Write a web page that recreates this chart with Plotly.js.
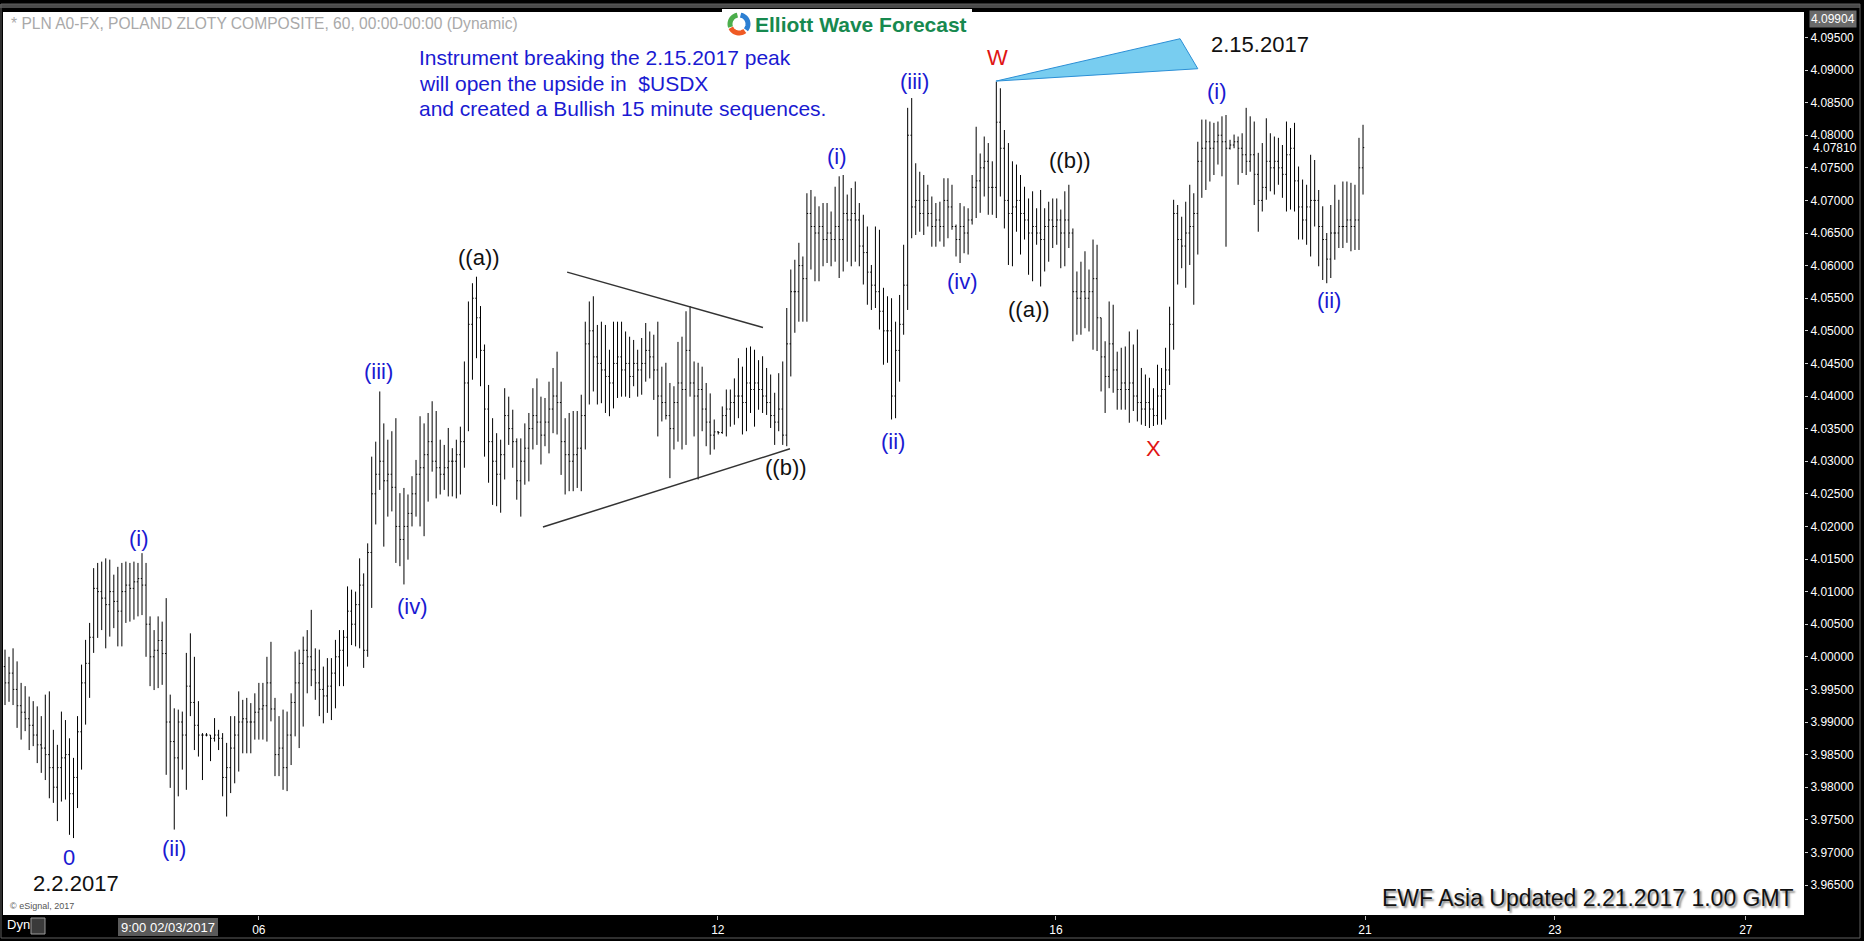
<!DOCTYPE html>
<html>
<head>
<meta charset="utf-8">
<script src="https://cdn.plot.ly/plotly-3.0.1.min.js"></script>
<style>
html,body{margin:0;padding:0;background:#000;overflow:hidden;}
#chart{width:1864px;height:941px;}
</style>
</head>
<body>
<div id="chart"></div>
<script>
// ---------------- DATA (PLN A0-FX, 60 min bars) ----------------
const firstOpen = 3.9985;
const highs = [
4.0011,4.0000,4.0013,3.9993,3.9960,3.9955,3.9939,3.9932,3.9924,3.9909,
3.9942,3.9947,3.9888,3.9865,3.9916,3.9903,3.9875,3.9845,3.9909,3.9988,
4.0026,4.0052,4.0136,4.0144,4.0146,4.0151,4.0149,4.0126,4.0138,4.0144,
4.0146,4.0144,4.0146,4.0144,4.0159,4.0144,4.0062,4.0041,4.0062,4.0054,
4.0090,3.9942,3.9921,3.9919,3.9916,4.0006,4.0036,4.0000,3.9932,3.9883,
3.9883,3.9880,3.9906,3.9888,3.9883,3.9868,3.9909,3.9909,3.9947,3.9934,
3.9937,3.9929,3.9944,3.9960,3.9960,4.0000,4.0023,3.9937,3.9909,3.9919,
3.9916,3.9944,4.0008,4.0011,4.0031,4.0041,4.0072,4.0013,4.0011,3.9985,
3.9998,3.9998,4.0026,4.0041,4.0041,4.0108,4.0103,4.0100,4.0151,4.0128,
4.0174,4.0307,4.0330,4.0407,4.0358,4.0333,4.0346,4.0366,4.0251,4.0259,
4.0249,4.0277,4.0302,4.0369,4.0358,4.0374,4.0392,4.0377,4.0333,4.0325,
4.0351,4.0320,4.0333,4.0353,4.0453,4.0545,4.0573,4.0583,4.0538,4.0479,
4.0417,4.0366,4.0343,4.0333,4.0412,4.0399,4.0379,4.0335,4.0335,4.0358,
4.0374,4.0412,4.0427,4.0399,4.0397,4.0422,4.0443,4.0468,4.0422,4.0366,
4.0374,4.0377,4.0377,4.0402,4.0514,4.0545,4.0553,4.0509,4.0514,4.0509,
4.0471,4.0514,4.0514,4.0514,4.0499,4.0491,4.0486,4.0471,4.0489,4.0512,
4.0499,4.0494,4.0514,4.0445,4.0451,4.0420,4.0415,4.0483,4.0491,4.0530,
4.0538,4.0453,4.0451,4.0445,4.0420,4.0404,4.0364,4.0346,4.0384,4.0410,
4.0410,4.0427,4.0458,4.0445,4.0474,4.0476,4.0471,4.0455,4.0461,4.0443,
4.0433,4.0405,4.0435,4.0453,4.0535,4.0594,4.0609,4.0635,4.0614,4.0711,
4.0716,4.0706,4.0691,4.0696,4.0696,4.0683,4.0721,4.0737,4.0739,4.0709,
4.0719,4.0729,4.0696,4.0678,4.0660,4.0601,4.0660,4.0655,4.0566,4.0553,
4.0550,4.0514,4.0555,4.0632,4.0842,4.0857,4.0757,4.0744,4.0739,4.0724,
4.0706,4.0696,4.0698,4.0734,4.0734,4.0724,4.0663,4.0696,4.0691,4.0688,
4.0739,4.0813,4.0772,4.0798,4.0788,4.0760,4.0882,4.0872,4.0808,4.0788,
4.0760,4.0755,4.0739,4.0721,4.0703,4.0714,4.0688,4.0716,4.0688,4.0698,
4.0703,4.0703,4.0686,4.0714,4.0724,4.0657,4.0591,4.0606,4.0622,4.0594,
4.0640,4.0632,4.0520,4.0484,4.0545,4.0540,4.0468,4.0474,4.0476,4.0499,
4.0479,4.0502,4.0443,4.0433,4.0428,4.0412,4.0448,4.0443,4.0474,4.0537,
4.0701,4.0693,4.0675,4.0698,4.0724,4.0711,4.0790,4.0824,4.0824,4.0821,
4.0819,4.0821,4.0829,4.0831,4.0793,4.0801,4.0798,4.0803,4.0842,4.0829,
4.0821,4.0773,4.0788,4.0826,4.0803,4.0798,4.0796,4.0785,4.0821,4.0811,
4.0819,4.0752,4.0732,4.0724,4.0770,4.0762,4.0716,4.0691,4.0650,4.0693,
4.0724,4.0701,4.0729,4.0729,4.0727,4.0724,4.0796,4.0816
];
const lows = [
3.9926,3.9931,3.9926,3.9891,3.9873,3.9886,3.9857,3.9863,3.9837,3.9822,
3.9811,3.9783,3.9776,3.9748,3.9778,3.9781,3.9727,3.9722,3.9768,3.9827,
3.9896,3.9937,4.0006,4.0029,4.0041,4.0013,4.0031,4.0044,4.0016,4.0016,
4.0052,4.0054,4.0057,4.0062,4.0064,4.0000,3.9955,3.9949,3.9952,3.9957,
3.9819,3.9799,3.9735,3.9786,3.9827,3.9796,3.9909,3.9857,3.9847,3.9811,
3.9878,3.9840,3.9870,3.9857,3.9786,3.9755,3.9791,3.9806,3.9824,3.9852,
3.9852,3.9852,3.9873,3.9873,3.9873,3.9870,3.9901,3.9817,3.9817,3.9796,
3.9794,3.9834,3.9878,3.9860,3.9893,3.9944,3.9955,3.9934,3.9909,3.9898,
3.9914,3.9903,3.9921,3.9955,3.9955,3.9985,4.0018,4.0016,4.0013,3.9983,
4.0000,4.0075,4.0203,4.0256,4.0169,4.0215,4.0223,4.0144,4.0139,4.0111,
4.0149,4.0200,4.0215,4.0200,4.0185,4.0238,4.0284,4.0243,4.0249,4.0256,
4.0246,4.0246,4.0243,4.0249,4.0290,4.0346,4.0425,4.0458,4.0415,4.0307,
4.0267,4.0233,4.0231,4.0221,4.0272,4.0325,4.0290,4.0241,4.0215,4.0264,
4.0269,4.0318,4.0325,4.0295,4.0323,4.0312,4.0343,4.0341,4.0279,4.0249,
4.0254,4.0254,4.0259,4.0254,4.0318,4.0387,4.0407,4.0387,4.0389,4.0374,
4.0369,4.0381,4.0397,4.0399,4.0399,4.0397,4.0415,4.0399,4.0402,4.0422,
4.0427,4.0394,4.0338,4.0361,4.0364,4.0274,4.0318,4.0330,4.0318,4.0325,
4.0399,4.0338,4.0272,4.0346,4.0323,4.0310,4.0318,4.0341,4.0342,4.0338,
4.0353,4.0356,4.0366,4.0341,4.0346,4.0374,4.0353,4.0379,4.0374,4.0371,
4.0351,4.0325,4.0346,4.0325,4.0323,4.0430,4.0497,4.0514,4.0514,4.0514,
4.0594,4.0576,4.0576,4.0599,4.0604,4.0599,4.0606,4.0581,4.0591,4.0606,
4.0599,4.0606,4.0599,4.0571,4.0540,4.0532,4.0535,4.0502,4.0448,4.0451,
4.0364,4.0366,4.0422,4.0494,4.0532,4.0642,4.0647,4.0652,4.0647,4.0660,
4.0629,4.0629,4.0637,4.0629,4.0642,4.0655,4.0614,4.0604,4.0619,4.0617,
4.0663,4.0673,4.0681,4.0706,4.0678,4.0678,4.0673,4.0706,4.0657,4.0601,
4.0599,4.0652,4.0617,4.0640,4.0586,4.0576,4.0632,4.0568,4.0591,4.0606,
4.0627,4.0632,4.0596,4.0599,4.0627,4.0484,4.0494,4.0494,4.0504,4.0499,
4.0471,4.0469,4.0407,4.0374,4.0412,4.0405,4.0379,4.0379,4.0379,4.0359,
4.0377,4.0361,4.0356,4.0354,4.0351,4.0354,4.0356,4.0356,4.0364,4.0417,
4.0471,4.0571,4.0596,4.0566,4.0601,4.0540,4.0617,4.0704,4.0716,4.0729,
4.0739,4.0755,4.0737,4.0629,4.0778,4.0780,4.0724,4.0742,4.0739,4.0744,
4.0693,4.0652,4.0683,4.0701,4.0714,4.0709,4.0724,4.0704,4.0683,4.0686,
4.0683,4.0640,4.0640,4.0632,4.0614,4.0660,4.0599,4.0578,4.0573,4.0581,
4.0609,4.0627,4.0627,4.0635,4.0622,4.0624,4.0624,4.0709
];
const closes = [
3.9960,3.9975,3.9950,3.9925,3.9915,3.9905,3.9895,3.9880,3.9865,3.9860,
3.9850,3.9830,3.9800,3.9830,3.9845,3.9850,3.9790,3.9815,3.9885,3.9960,
3.9990,4.0030,4.0105,4.0100,4.0090,4.0080,4.0100,4.0085,4.0070,4.0100,
4.0110,4.0105,4.0115,4.0120,4.0110,4.0050,4.0000,4.0010,4.0025,4.0005,
3.9900,3.9870,3.9845,3.9900,3.9880,3.9955,3.9930,3.9895,3.9880,3.9880,
3.9880,3.9875,3.9880,3.9875,3.9815,3.9830,3.9860,3.9880,3.9900,3.9905,
3.9900,3.9900,3.9915,3.9920,3.9925,3.9960,3.9920,3.9850,3.9860,3.9830,
3.9880,3.9930,3.9960,3.9990,4.0010,4.0000,3.9980,3.9960,3.9950,3.9940,
3.9955,3.9975,4.0000,4.0010,4.0030,4.0070,4.0050,4.0080,4.0110,4.0010,
4.0160,4.0250,4.0280,4.0300,4.0270,4.0280,4.0260,4.0200,4.0180,4.0200,
4.0220,4.0250,4.0280,4.0290,4.0310,4.0330,4.0300,4.0290,4.0280,4.0290,
4.0300,4.0300,4.0310,4.0330,4.0420,4.0510,4.0550,4.0520,4.0470,4.0380,
4.0330,4.0300,4.0280,4.0310,4.0370,4.0350,4.0330,4.0270,4.0300,4.0320,
4.0350,4.0370,4.0360,4.0340,4.0360,4.0380,4.0400,4.0390,4.0330,4.0310,
4.0300,4.0310,4.0320,4.0370,4.0480,4.0500,4.0460,4.0450,4.0440,4.0430,
4.0420,4.0450,4.0460,4.0440,4.0450,4.0430,4.0450,4.0440,4.0450,4.0470,
4.0460,4.0440,4.0400,4.0390,4.0370,4.0350,4.0390,4.0420,4.0410,4.0470,
4.0420,4.0400,4.0410,4.0380,4.0360,4.0340,4.0345,4.0344,4.0370,4.0380,
4.0390,4.0400,4.0400,4.0390,4.0420,4.0410,4.0420,4.0410,4.0400,4.0390,
4.0370,4.0360,4.0380,4.0340,4.0480,4.0560,4.0560,4.0600,4.0580,4.0680,
4.0660,4.0650,4.0660,4.0640,4.0650,4.0640,4.0660,4.0640,4.0680,4.0670,
4.0680,4.0670,4.0630,4.0620,4.0590,4.0570,4.0560,4.0530,4.0500,4.0500,
4.0400,4.0470,4.0510,4.0570,4.0800,4.0690,4.0700,4.0680,4.0700,4.0680,
4.0660,4.0670,4.0660,4.0700,4.0690,4.0660,4.0640,4.0660,4.0650,4.0670,
4.0720,4.0730,4.0750,4.0760,4.0720,4.0720,4.0820,4.0780,4.0700,4.0680,
4.0690,4.0700,4.0680,4.0670,4.0650,4.0660,4.0650,4.0640,4.0660,4.0670,
4.0660,4.0670,4.0650,4.0670,4.0650,4.0560,4.0550,4.0560,4.0550,4.0560,
4.0580,4.0520,4.0460,4.0430,4.0480,4.0440,4.0410,4.0420,4.0410,4.0420,
4.0400,4.0390,4.0380,4.0390,4.0380,4.0370,4.0400,4.0410,4.0440,4.0510,
4.0680,4.0640,4.0630,4.0650,4.0660,4.0680,4.0760,4.0780,4.0790,4.0780,
4.0790,4.0800,4.0790,4.0780,4.0785,4.0790,4.0780,4.0770,4.0760,4.0770,
4.0740,4.0700,4.0720,4.0760,4.0750,4.0760,4.0750,4.0740,4.0770,4.0780,
4.0730,4.0690,4.0670,4.0690,4.0700,4.0700,4.0660,4.0640,4.0610,4.0650,
4.0650,4.0660,4.0660,4.0670,4.0660,4.0670,4.0750,4.0781
];

// axis ticks
const xTickPos  = [64.0, 177.9, 261.8, 338.5, 385.6, 433.0];
const xTickText = ["06", "12", "16", "21", "23", "27"];
const yTicks = [3.965,3.970,3.975,3.980,3.985,3.990,3.995,4.000,4.005,4.010,4.015,4.020,4.025,
                4.030,4.035,4.040,4.045,4.050,4.055,4.060,4.065,4.070,4.075,4.080,4.085,4.090,4.095];
const topPriceLabel = "4.09904";
const lastPriceLabel = "4.07810";
const lastPrice = 4.0781;

// Elliott wave labels (bar index, price)
const waveText  = ["0","(i)","(ii)","(iii)","(iv)","((a))","((b))","(i)","(ii)","(iii)","(iv)","W","((a))","((b))","X","(i)","(ii)"];
const waveX     = [16.9, 34.2, 42.9, 93.6, 102.2, 118.6, 194.8, 207.5, 221.3, 226.6, 238.5, 247.2, 255.1, 265.3, 286.1, 301.7, 329.5];
const waveY     = [3.9692,4.0181,3.9706,4.0437,4.0077,4.0612,4.0290,4.0768,4.0330,4.0883,4.0575,4.0919,4.0532,4.0762,4.0319,4.0867,4.0546];
const waveColor = ["#1a1ad2","#1a1ad2","#1a1ad2","#1a1ad2","#1a1ad2","#111111","#111111","#1a1ad2","#1a1ad2","#1a1ad2","#1a1ad2","#e01414","#111111","#111111","#e01414","#1a1ad2","#1a1ad2"];

const dateLabels = ["2.2.2017", "2.15.2017"];
const dateX = [18.6, 312.4];
const dateY = [3.9652, 4.0939];

// triangle (contracting) trend lines: [x0,y0,x1,y1] in bar index / price
const triUpper = [140.5, 4.0590, 189.1, 4.0505];
const triLower = [134.5, 4.0199, 195.8, 4.0319];
// blue target wedge from W peak
const wedgeX = [246.9, 292.6, 297.0];
const wedgeY = [4.0883, 4.0948, 4.0902];

const headerText = "* PLN A0-FX, POLAND ZLOTY COMPOSITE, 60, 00:00-00:00 (Dynamic)";
const noteLines = ["Instrument breaking the 2.15.2017 peak",
                   "will open the upside in  $USDX",
                   "and created a Bullish 15 minute sequences."];
const footerText = "EWF Asia Updated 2.21.2017 1.00 GMT";
const cursorLabel = "9:00 02/03/2017";

// ---------------- BUILD ----------------
const N = highs.length;
const barIdx = highs.map((_, i) => i + 1);
const opens = closes.map((c, i) => i === 0 ? firstOpen : closes[i - 1]);

const W = 1864, H = 941;
const M = {l: 3, r: 60, t: 12, b: 26};
const PW = W - M.l - M.r, PH = H - M.t - M.b;
const px = x => (x - M.l) / PW;
const py = y => (H - M.b - y) / PH;

const FONT = "Arial, 'Liberation Sans', sans-serif";

const trace = {
  type: 'ohlc',
  x: barIdx, open: opens, high: highs, low: lows, close: closes,
  increasing: {line: {color: '#000000', width: 1}},
  decreasing: {line: {color: '#000000', width: 1}},
  tickwidth: 0.3,
  hoverinfo: 'skip',
  showlegend: false
};

function arc(cx, cy, r, a0, a1) {
  let d = '';
  const steps = 14;
  for (let k = 0; k <= steps; k++) {
    const a = (a0 + (a1 - a0) * k / steps) * Math.PI / 180;
    const x = px(cx + r * Math.cos(a)), y = py(cy - r * Math.sin(a));
    d += (k === 0 ? 'M ' : ' L ') + x + ',' + y;
  }
  return d;
}

const shapes = [
  {type: 'rect', xref: 'paper', yref: 'paper', x0: px(0), x1: px(1860), y0: py(8), y1: py(4),
   fillcolor: '#4a4a4a', line: {width: 0}},
  {type: 'rect', xref: 'paper', yref: 'paper', x0: px(1), x1: px(1860), y0: py(938), y1: py(4),
   line: {color: '#5e5e5e', width: 1}},
  {type: 'rect', xref: 'paper', yref: 'paper', x0: px(722), x1: px(972), y0: py(40), y1: py(9),
   fillcolor: '#ffffff', line: {width: 0}},
  {type: 'path', xref: 'paper', yref: 'paper', path: arc(739, 24, 9, 100, 200), line: {color: '#4cae4c', width: 5}},
  {type: 'path', xref: 'paper', yref: 'paper', path: arc(739, 24, 9, -40, 80), line: {color: '#2d7fd2', width: 5}},
  {type: 'path', xref: 'paper', yref: 'paper', path: arc(739, 24, 9, 205, 310), line: {color: '#ef5a24', width: 5}},
  {type: 'line', xref: 'x', yref: 'y', x0: triUpper[0], y0: triUpper[1], x1: triUpper[2], y1: triUpper[3],
   line: {color: '#333333', width: 1.5}},
  {type: 'line', xref: 'x', yref: 'y', x0: triLower[0], y0: triLower[1], x1: triLower[2], y1: triLower[3],
   line: {color: '#333333', width: 1.5}},
  {type: 'path', xref: 'x', yref: 'y',
   path: 'M ' + wedgeX[0] + ',' + wedgeY[0] + ' L ' + wedgeX[1] + ',' + wedgeY[1] + ' L ' + wedgeX[2] + ',' + wedgeY[2] + ' Z',
   fillcolor: '#78cdf0', line: {color: '#2b8fd6', width: 1}},
  {type: 'rect', xref: 'paper', yref: 'paper', x0: px(31), x1: px(45), y0: py(934), y1: py(918),
   fillcolor: '#3a3a3a', line: {color: '#9a9a9a', width: 1}},
  {type: 'rect', xref: 'paper', yref: 'paper', x0: px(118), x1: px(218), y0: py(936), y1: py(918),
   fillcolor: '#5a5a5a', line: {width: 0}}
];

const annotations = [];
function addNote(o) {
  annotations.push(Object.assign({showarrow: false, xref: 'paper', yref: 'paper'}, o));
}

addNote({text: headerText, x: px(9), y: py(24), xanchor: 'left', yanchor: 'middle',
         font: {family: FONT, size: 15.6, color: '#a9a9a9'}});
addNote({text: '<b>Elliott Wave Forecast</b>', x: px(753), y: py(25), xanchor: 'left', yanchor: 'middle',
         font: {family: FONT, size: 21, color: '#17894f'}});
noteLines.forEach((t, i) => addNote({text: t, x: px(417), y: py(58 + 25 * i), xanchor: 'left', yanchor: 'middle',
         font: {family: FONT, size: 21, color: '#1a1ad2'}}));
addNote({text: footerText, x: px(1796), y: py(898), xanchor: 'right', yanchor: 'middle',
         font: {family: FONT, size: 23, color: '#111111', shadow: '2px 2px 2px #8a8a8a'}});
addNote({text: '\u00a9 eSignal, 2017', x: px(8), y: py(906), xanchor: 'left', yanchor: 'middle',
         font: {family: FONT, size: 9, color: '#555555'}});
addNote({text: 'Dyn', x: px(5), y: py(925), xanchor: 'left', yanchor: 'middle',
         font: {family: FONT, size: 13, color: '#ffffff'}});
addNote({text: cursorLabel, x: px(168), y: py(927), xanchor: 'center', yanchor: 'middle',
         font: {family: FONT, size: 13, color: '#ffffff'}});
addNote({text: topPriceLabel, x: px(1833), y: py(19), xanchor: 'center', yanchor: 'middle',
         bgcolor: '#6a6a6a', borderpad: 1,
         font: {family: FONT, size: 12, color: '#ffffff'}});
addNote({text: lastPriceLabel, xref: 'paper', yref: 'y', x: px(1811), y: lastPrice, xanchor: 'left', yanchor: 'middle',
         font: {family: FONT, size: 12, color: '#ffffff'}});

waveText.forEach((t, i) => annotations.push({
  text: t, x: waveX[i], y: waveY[i], xref: 'x', yref: 'y', showarrow: false,
  xanchor: 'center', yanchor: 'middle',
  font: {family: FONT, size: 22, color: waveColor[i]}
}));
dateLabels.forEach((t, i) => annotations.push({
  text: t, x: dateX[i], y: dateY[i], xref: 'x', yref: 'y', showarrow: false,
  xanchor: 'center', yanchor: 'middle',
  font: {family: FONT, size: 22, color: '#111111'}
}));

const layout = {
  width: W, height: H,
  margin: {l: M.l, r: M.r, t: M.t, b: M.b, pad: 0},
  paper_bgcolor: '#000000',
  plot_bgcolor: '#ffffff',
  showlegend: false,
  hovermode: false,
  dragmode: false,
  xaxis: {
    range: [0.504, 447.43], type: 'linear',
    showgrid: false, zeroline: false, showline: false,
    tickmode: 'array', tickvals: xTickPos, ticktext: xTickText,
    ticks: 'outside', ticklen: 4, tickcolor: '#bdbdbd', tickwidth: 1,
    tickfont: {family: FONT, size: 12, color: '#ffffff'},
    rangeslider: {visible: false}, fixedrange: true
  },
  yaxis: {
    side: 'right', range: [3.9604, 4.0989], type: 'linear',
    showgrid: false, zeroline: false, showline: false,
    tickmode: 'array', tickvals: yTicks, tickformat: '.5f',
    ticks: 'outside', ticklen: 3, tickcolor: '#cfcfcf', tickwidth: 1,
    tickfont: {family: FONT, size: 12, color: '#ffffff'},
    fixedrange: true
  },
  shapes: shapes,
  annotations: annotations
};

Plotly.newPlot('chart', [trace], layout, {displayModeBar: false, staticPlot: true});
</script>
</body>
</html>
